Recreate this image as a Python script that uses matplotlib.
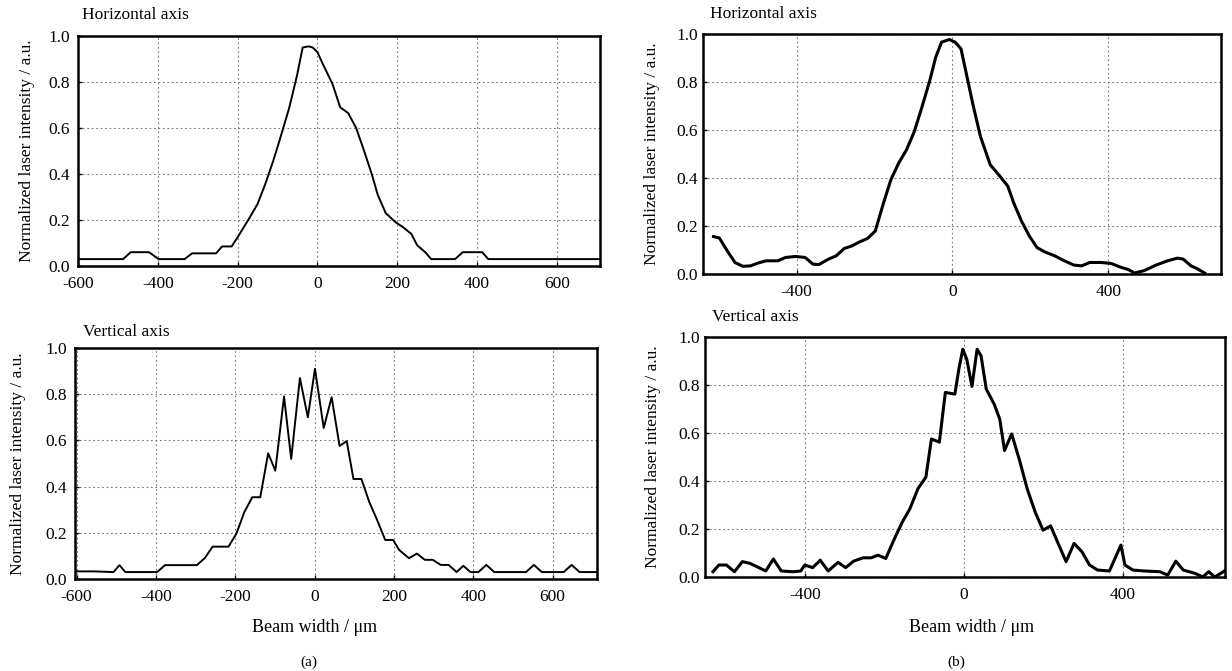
import matplotlib
matplotlib.use("Agg")
import matplotlib.pyplot as plt

plt.rcParams['font.family'] = ['Liberation Serif', 'DejaVu Serif']

# ---- Data ----
# (a) Horizontal axis
a_h_x = [-600, -487, -468, -422, -398, -333, -314, -254, -239, -215, -200, -170, -150, -131,
         -111, -96, -71, -51, -37, -22, -12, 0, 13, 38, 57, 77, 97, 117, 136, 151, 171, 196,
         215, 235, 250, 270, 285, 345, 364, 413, 428, 715]
a_h_y = [0.03, 0.03, 0.06, 0.06, 0.03, 0.03, 0.055, 0.055, 0.085, 0.085, 0.125, 0.21, 0.27,
         0.355, 0.456, 0.54, 0.686, 0.83, 0.95, 0.955, 0.95, 0.93, 0.88, 0.79, 0.69, 0.665,
         0.6, 0.5, 0.4, 0.31, 0.23, 0.19, 0.168, 0.14, 0.09, 0.06, 0.03, 0.03, 0.06, 0.06,
         0.03, 0.03]

# (a) Vertical axis
a_v_x = [-604, -557, -507, -492, -477, -397, -377, -297, -277, -257, -217, -197, -177, -157,
         -137, -117, -99, -77, -59, -37, -17, 1, 23, 43, 63, 81, 98, 118, 138, 158, 178, 198,
         213, 238, 258, 278, 298, 318, 338, 358, 375, 393, 413, 433, 453, 533, 553, 573, 628,
         648, 668, 718]
a_v_y = [0.033, 0.033, 0.03, 0.06, 0.03, 0.03, 0.06, 0.06, 0.09, 0.14, 0.14, 0.197, 0.29,
         0.354, 0.354, 0.544, 0.469, 0.79, 0.52, 0.87, 0.70, 0.91, 0.654, 0.787, 0.576, 0.597,
         0.433, 0.433, 0.333, 0.254, 0.169, 0.169, 0.126, 0.09, 0.11, 0.083, 0.083, 0.061,
         0.061, 0.03, 0.057, 0.03, 0.03, 0.061, 0.03, 0.03, 0.061, 0.03, 0.03, 0.061, 0.03,
         0.03]

# (b) Horizontal axis
b_h_x = [-613, -598, -578, -558, -538, -518, -498, -478, -448, -428, -403, -378, -358, -343,
         -318, -298, -278, -258, -238, -218, -198, -178, -158, -138, -118, -98, -78, -58, -43,
         -28, -8, 7, 22, 32, 52, 72, 97, 122, 142, 157, 177, 197, 217, 237, 262, 287, 312,
         332, 352, 382, 407, 432, 452, 467, 492, 522, 552, 577, 592, 612, 627, 647]
b_h_y = [0.156, 0.15, 0.097, 0.048, 0.032, 0.034, 0.046, 0.055, 0.055, 0.069, 0.073, 0.069,
         0.041, 0.039, 0.062, 0.076, 0.106, 0.117, 0.134, 0.148, 0.179, 0.29, 0.393, 0.462,
         0.517, 0.593, 0.697, 0.807, 0.903, 0.966, 0.977, 0.966, 0.938, 0.862, 0.71, 0.572,
         0.455, 0.407, 0.366, 0.297, 0.221, 0.159, 0.11, 0.092, 0.076, 0.055, 0.037, 0.034,
         0.048, 0.048, 0.044, 0.028, 0.018, 0.004, 0.014, 0.037, 0.055, 0.066, 0.062, 0.034,
         0.023, 0.004]

# (b) Vertical axis
b_v_x = [-632, -617, -598, -578, -558, -539, -499, -480, -460, -430, -411, -401, -381, -362,
         -342, -317, -298, -278, -254, -234, -216, -197, -175, -155, -136, -116, -96, -82, -62,
         -47, -23, -13, -3, 7, 20, 33, 43, 56, 76, 90, 102, 120, 140, 159, 179, 199, 218, 238,
         257, 277, 297, 316, 336, 366, 380, 395, 405, 425, 454, 493, 513, 533, 552, 582, 601,
         616, 631, 650, 658]
b_v_y = [0.022, 0.05, 0.05, 0.022, 0.064, 0.057, 0.025, 0.075, 0.025, 0.022, 0.025, 0.05,
         0.039, 0.07, 0.025, 0.061, 0.039, 0.066, 0.08, 0.08, 0.091, 0.077, 0.16, 0.23, 0.285,
         0.368, 0.416, 0.575, 0.562, 0.769, 0.762, 0.866, 0.949, 0.907, 0.794, 0.949, 0.921,
         0.783, 0.72, 0.658, 0.527, 0.596, 0.485, 0.368, 0.271, 0.195, 0.213, 0.136, 0.064,
         0.14, 0.105, 0.05, 0.029, 0.025, 0.077, 0.133, 0.05, 0.029, 0.025, 0.022, 0.008,
         0.066, 0.029, 0.015, 0.0, 0.022, 0.0, 0.019, 0.028]

y_ticks = [0.0, 0.2, 0.4, 0.6, 0.8, 1.0]
a_xticks = [-600, -400, -200, 0, 200, 400, 600]
b_xticks = [-400, 0, 400]

W, H = 1232, 671
fig = plt.figure(figsize=(W / 100, H / 100), dpi=100)


def px_axes(l, t, r, b):
    return fig.add_axes([l / W, 1 - b / H, (r - l) / W, (b - t) / H])


def fig_text(x, y, s, **kw):
    return fig.text(x / W, 1 - y / H, s, **kw)


TICK_FS = 12.5
YLAB_FS = 12.5
TITLE_FS = 12.5
XLAB_FS = 13
YLAB = 'Normalized laser intensity / a.u.'


def style(ax, xlim, xticks, ypad, ylab_x_px, ax_left_px, ax_w_px):
    ax.set_xlim(*xlim)
    ax.set_ylim(0, 1.0)
    ax.set_xticks(xticks)
    ax.set_yticks(y_ticks)
    ax.set_xticklabels([str(v) for v in xticks], fontsize=TICK_FS)
    ax.set_yticklabels(['%.1f' % v for v in y_ticks], fontsize=TICK_FS)
    ax.tick_params(axis='x', direction='in', length=3, width=1, pad=7.5)
    ax.tick_params(axis='y', direction='in', length=3, width=1, pad=ypad)
    ax.grid(True, linestyle=(0, (1.5, 2.5)), color='#777777', linewidth=0.8)
    for s in ax.spines.values():
        s.set_linewidth(1.8)
        s.set_color('black')
    ax.set_ylabel(YLAB, fontsize=YLAB_FS)
    ax.yaxis.set_label_coords((ylab_x_px - ax_left_px) / ax_w_px, 0.5)
    ax.yaxis.label.set_va('center')


# (a) top
ax1 = px_axes(78, 36, 600, 266)
ax1.plot(a_h_x, a_h_y, color='black', linewidth=1.4)
style(ax1, (-600, 708), a_xticks, 5.5, 27, 78, 522)
fig_text(82, 15, 'Horizontal axis', fontsize=TITLE_FS, ha='left', va='center')

# (a) bottom
ax2 = px_axes(75, 348, 597, 579)
ax2.plot(a_v_x, a_v_y, color='black', linewidth=1.4)
style(ax2, (-604, 712), a_xticks, 5.5, 18, 75, 522)
fig_text(83, 332, 'Vertical axis', fontsize=TITLE_FS, ha='left', va='center')
ax2.set_xlabel('Beam width / \u03bcm', fontsize=XLAB_FS)
ax2.xaxis.set_label_coords((315 - 75) / 522, (579 - 628) / 231)
ax2.xaxis.label.set_va('center')

# (b) top
ax3 = px_axes(703, 34, 1221, 274)
ax3.plot(b_h_x, b_h_y, color='black', linewidth=2.2)
style(ax3, (-640, 689), b_xticks, 3.5, 652, 703, 518)
fig_text(710, 14, 'Horizontal axis', fontsize=TITLE_FS, ha='left', va='center')

# (b) bottom
ax4 = px_axes(705, 337, 1225, 577)
ax4.plot(b_v_x, b_v_y, color='black', linewidth=2.2)
style(ax4, (-652, 657), b_xticks, 3.5, 653, 705, 520)
fig_text(712, 317, 'Vertical axis', fontsize=TITLE_FS, ha='left', va='center')
ax4.set_xlabel('Beam width / \u03bcm', fontsize=XLAB_FS)
ax4.xaxis.set_label_coords((972 - 705) / 520, (577 - 628) / 240)
ax4.xaxis.label.set_va('center')

fig_text(309, 662, '(a)', ha='center', va='center', fontsize=11)
fig_text(956, 662, '(b)', ha='center', va='center', fontsize=11)

fig.savefig('out.png', dpi=100, facecolor='white')
